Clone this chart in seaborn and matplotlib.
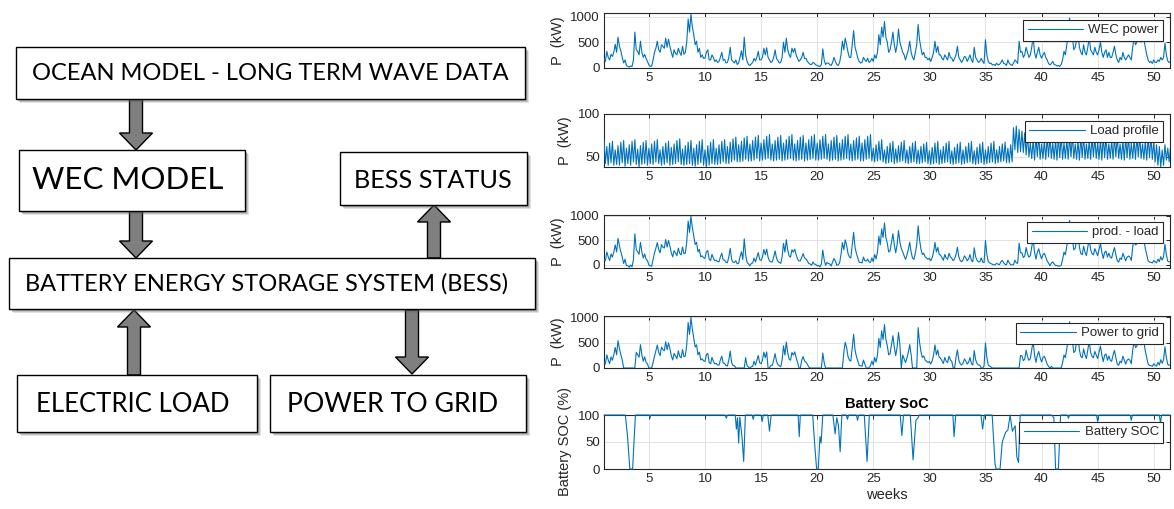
import numpy as np
import pandas as pd
import matplotlib
matplotlib.use("Agg")
import matplotlib.pyplot as plt
from matplotlib.patches import Rectangle, FancyArrow
import seaborn as sns

# WEC power, 8 readings per week (kW), one row per week 1..51
wec = [
    180, 120, 320, 200, 150, 260, 220, 300,
    460, 300, 600, 420, 330, 200, 90, 150,
    40, 20, 10, 30, 20, 150, 700, 350,
    320, 250, 520, 300, 200, 260, 180, 120,
    50, 20, 30, 150, 300, 380, 520, 350,
    300, 450, 420, 380, 580, 400, 560, 420,
    300, 200, 350, 280, 250, 380, 300, 240,
    420, 260, 300, 500, 960, 700, 1060, 800,
    650, 450, 520, 300, 380, 200, 250, 180,
    185, 300, 350, 150, 150, 250, 200, 120,
    150, 100, 120, 200, 300, 140, 160, 90,
    100, 200, 400, 150, 120, 90, 150, 60,
    90, 200, 330, 150, 600, 250, 120, 60,
    40, 70, 100, 180, 130, 200, 320, 150,
    150, 200, 380, 250, 390, 200, 150, 100,
    120, 200, 350, 180, 140, 90, 100, 200,
    500, 300, 580, 350, 250, 200, 380, 300,
    380, 250, 180, 120, 150, 200, 300, 180,
    180, 120, 90, 60, 60, 100, 85, 50,
    40, 30, 20, 60, 370, 150, 60, 90,
    85, 60, 40, 100, 200, 120, 60, 40,
    100, 250, 520, 350, 580, 450, 300, 200,
    200, 450, 730, 400, 300, 180, 120, 90,
    100, 200, 150, 120, 185, 100, 120, 180,
    120, 250, 180, 300, 650, 450, 800, 600,
    910, 600, 500, 300, 350, 500, 700, 450,
    300, 450, 760, 500, 400, 300, 250, 150,
    250, 350, 520, 300, 200, 150, 300, 450,
    850, 550, 380, 250, 300, 200, 200, 150,
    185, 120, 200, 300, 520, 300, 420, 250,
    250, 180, 150, 250, 200, 150, 300, 200,
    185, 120, 180, 250, 420, 200, 150, 100,
    150, 220, 200, 120, 180, 250, 150, 100,
    400, 200, 150, 100, 120, 180, 120, 80,
    550, 250, 120, 80, 85, 50, 60, 40,
    85, 50, 60, 100, 150, 80, 70, 40,
    150, 80, 60, 40, 85, 150, 120, 80,
    520, 300, 320, 200, 250, 400, 300, 200,
    250, 400, 600, 300, 185, 300, 400, 250,
    185, 250, 300, 200, 150, 80, 50, 80,
    120, 60, 50, 30, 40, 20, 60, 150,
    320, 250, 450, 600, 980, 700, 600, 350,
    400, 550, 700, 400, 300, 250, 450, 300,
    250, 400, 600, 350, 300, 250, 400, 300,
    250, 350, 500, 300, 200, 300, 350, 200,
    300, 200, 200, 300, 420, 250, 150, 100,
    200, 150, 300, 200, 150, 200, 250, 200,
    150, 400, 600, 450, 500, 700, 650, 500,
    700, 550, 400, 250, 150, 100, 120, 80,
    150, 100, 100, 150, 120, 200, 150, 200,
    480, 250, 130, 100, 120, 180, 150, 120,
]

# load profile, 8 readings per week (kW)
load = [
    70, 42, 62, 40, 66, 43, 68, 40,
    58, 41, 63, 40, 67, 43, 69, 39,
    60, 42, 64, 40, 68, 44, 70, 41,
    59, 38, 63, 41, 67, 42, 69, 40,
    60, 42, 65, 41, 68, 44, 70, 42,
    58, 40, 62, 41, 66, 43, 68, 40,
    61, 41, 65, 42, 69, 44, 71, 41,
    59, 40, 63, 41, 67, 42, 69, 40,
    60, 39, 64, 41, 68, 43, 70, 40,
    58, 38, 63, 40, 67, 42, 70, 41,
    60, 41, 64, 42, 68, 44, 70, 42,
    62, 42, 67, 44, 71, 46, 73, 44,
    64, 44, 68, 45, 72, 47, 74, 45,
    65, 45, 69, 46, 73, 48, 75, 45,
    66, 46, 70, 47, 74, 48, 76, 46,
    65, 45, 69, 46, 73, 47, 75, 45,
    66, 46, 70, 47, 74, 48, 76, 46,
    65, 45, 69, 46, 73, 47, 75, 45,
    66, 46, 70, 47, 74, 48, 76, 46,
    66, 46, 70, 47, 74, 48, 76, 47,
    65, 45, 69, 46, 73, 47, 75, 45,
    66, 46, 70, 47, 74, 48, 76, 46,
    65, 45, 69, 46, 72, 47, 74, 45,
    66, 45, 70, 47, 74, 48, 76, 45,
    60, 44, 64, 45, 68, 46, 70, 44,
    58, 42, 62, 43, 66, 44, 68, 42,
    59, 43, 63, 44, 67, 45, 69, 43,
    58, 42, 62, 43, 66, 44, 68, 42,
    58, 42, 62, 43, 65, 44, 67, 42,
    57, 41, 61, 42, 66, 43, 68, 41,
    58, 42, 62, 43, 66, 44, 68, 42,
    57, 41, 61, 42, 65, 43, 67, 41,
    58, 42, 62, 43, 66, 44, 68, 42,
    57, 41, 61, 42, 65, 43, 67, 41,
    58, 42, 62, 43, 66, 44, 68, 42,
    58, 43, 62, 44, 65, 45, 67, 43,
    60, 43, 64, 44, 84, 58, 86, 55,
    82, 56, 80, 55, 78, 52, 76, 50,
    66, 48, 70, 46, 74, 50, 76, 47,
    65, 48, 69, 47, 73, 50, 74, 48,
    66, 47, 70, 46, 74, 49, 75, 47,
    66, 48, 70, 47, 74, 50, 76, 48,
    65, 47, 69, 46, 73, 49, 75, 47,
    65, 48, 69, 47, 73, 50, 74, 48,
    66, 47, 70, 46, 74, 49, 75, 47,
    65, 48, 69, 47, 73, 50, 74, 48,
    65, 47, 69, 46, 73, 49, 74, 47,
    66, 48, 70, 47, 74, 50, 75, 48,
    65, 47, 69, 46, 73, 49, 74, 47,
    68, 44, 64, 40, 62, 38, 58, 40,
    64, 46, 60, 44, 62, 45, 60, 44,
]

# periods (weeks) where nothing goes to the grid because the battery is charging
grid_off = [(2.75, 3.85), (12.75, 13.6), (15.6, 15.85), (18.3, 18.5), (19.3, 20.45),
            (20.7, 22.25), (24.3, 24.7), (27.4, 27.6), (28.4, 28.9), (32.1, 32.3),
            (34.6, 34.8), (35.6, 38.05), (40.9, 41.8)]

# battery state of charge (%)
soc_weeks = [1.0, 2.9, 3.1, 3.3, 3.55, 3.8, 5.05, 5.1, 5.15, 11.8, 11.9, 12.0,
             12.7, 12.8, 12.9, 13.0, 13.1, 13.3, 13.45, 13.6, 14.2, 14.3, 14.4,
             15.0, 15.1, 15.2, 15.6, 15.75, 15.9, 18.3, 18.4, 18.5,
             19.6, 19.8, 19.95, 20.1, 20.25, 20.35, 20.5,
             21.4, 21.6, 21.75, 21.9, 22.05, 22.2, 22.6, 22.7, 22.8, 23.5, 23.6, 23.7,
             24.2, 24.45, 24.65, 27.4, 27.55, 27.7, 28.3, 28.55, 28.8, 29.0, 29.1,
             32.1, 32.2, 32.35, 34.6, 34.75, 34.9,
             35.6, 35.85, 35.95, 36.3, 36.5, 36.8, 37.0, 37.2, 37.4, 37.65, 37.8, 37.95, 38.1,
             40.9, 41.1, 41.25, 41.5, 41.7, 42.3, 42.4, 42.5, 44.9, 45.0, 45.1,
             47.9, 48.0, 48.1, 50.5, 50.6, 50.7, 51.45]
soc_vals = [100, 100, 60, 0, 0, 100, 100, 94, 100, 100, 94, 100,
            100, 74, 95, 48, 96, 60, 14, 100, 100, 92, 100,
            100, 88, 100, 100, 70, 100, 100, 60, 100,
            100, 40, 0, 0, 60, 48, 100,
            100, 65, 95, 80, 32, 100, 100, 92, 100, 100, 90, 100,
            100, 14, 100, 100, 62, 100, 100, 17, 90, 95, 100,
            100, 60, 100, 100, 74, 100,
            100, 10, 0, 0, 50, 68, 72, 100, 70, 80, 22, 12, 100,
            100, 95, 0, 0, 100, 100, 94, 100, 100, 88, 100,
            100, 90, 100, 100, 85, 100, 100]

weeks = 1 + 0.125 * np.arange(len(wec))
df = pd.DataFrame({'week': weeks, 'wec': wec, 'load': load})
df['prod_load'] = df['wec'] - df['load']
off = np.zeros(len(df), dtype=bool)
for a, b in grid_off:
    off |= (df['week'] >= a) & (df['week'] <= b)
df['grid'] = np.where(off, 0, df['prod_load'].clip(lower=0))
soc_df = pd.DataFrame({'week': soc_weeks, 'soc': soc_vals})

sns.set_theme(style='white')
plt.rcParams['font.family'] = ['Liberation Sans', 'DejaVu Sans']

W, H = 1174, 509
fig = plt.figure(figsize=(W / 100, H / 100), dpi=100)
fig.patch.set_facecolor('white')

# ---- block diagram on the left ----
ax0 = fig.add_axes([0, 0, 587 / W, 1])
ax0.set_xlim(0, 587)
ax0.set_ylim(H, 0)
ax0.axis('off')

def box(x0, y0, x1, y1, text, size, tx, ty):
    for d, a in [(4, 0.18), (3, 0.25), (2, 0.3)]:
        ax0.add_patch(Rectangle((x0 + d, y0 + d), x1 - x0, y1 - y0, fc='#606060', ec='none', alpha=a))
    ax0.add_patch(Rectangle((x0, y0), x1 - x0, y1 - y0, fc='white', ec='black', lw=1.0))
    ax0.text(tx, ty, text, fontsize=size, ha='center', va='center', family='Lato', color='black')

def arrow(x, y0, y1):
    ax0.add_patch(FancyArrow(x, y0, 0, y1 - y0, width=13, head_width=33, head_length=17,
                             length_includes_head=True, fc='#7f7f7f', ec='black', lw=1.0))

arrow(136, 99, 150)
arrow(136, 211, 258)
arrow(434, 258, 205)
arrow(134, 375, 310)
arrow(412, 310, 374)

box(16, 47, 525, 99, 'OCEAN MODEL - LONG TERM WAVE DATA', 17, 270, 73)
box(19, 150, 245, 211, 'WEC MODEL', 22.5, 128, 180)
box(340, 152, 527, 205, 'BESS STATUS', 18.2, 433, 181)
box(9, 258, 535, 309, 'BATTERY ENERGY STORAGE SYSTEM (BESS)', 17, 267, 284)
box(17, 375, 257, 432, 'ELECTRIC LOAD', 18.5, 133, 404)
box(270, 375, 526, 432, 'POWER TO GRID', 19.2, 393, 404)

# ---- time series on the right ----
blue = '#0072BD'
dark = '#262626'
x_left, x_right = 604, 1170
panels = [
    (13, 67.5, 'wec', 'WEC power', (0, 1078), [0, 500, 1000]),
    (114, 167, 'load', 'Load profile', (38, 100), [50, 100]),
    (215, 268, 'prod_load', 'prod. - load', (-70, 1015), [0, 500, 1000]),
    (316, 368, 'grid', 'Power to grid', (0, 1020), [0, 500, 1000]),
    (415, 469, 'soc', 'Battery SOC', (0, 100), [0, 50, 100]),
]

for top, bottom, col, lab, ylim, yt in panels:
    ax = fig.add_axes([x_left / W, 1 - bottom / H, (x_right - x_left) / W, (bottom - top) / H])
    if col == 'soc':
        sns.lineplot(data=soc_df, x='week', y='soc', ax=ax, color=blue, lw=0.8, label=lab,
                     zorder=3, clip_on=False)
        ax.set_ylabel('Battery SOC (%)', fontsize=10.5, color=dark, labelpad=4)
        ax.set_xlabel('weeks', fontsize=10.5, color=dark, labelpad=2)
        ax.set_title('Battery SoC', fontsize=10.5, fontweight='bold', color='black', pad=5)
    else:
        sns.lineplot(data=df, x='week', y=col, ax=ax, color=blue, lw=0.8, label=lab, zorder=3)
        ax.set_ylabel('P  (kW)', fontsize=10.5, color=dark, labelpad=4)
        ax.set_xlabel('')
    ax.set_xlim(1, 51.45)
    ax.set_ylim(*ylim)
    ax.set_xticks(range(5, 55, 5))
    ax.set_yticks(yt)
    ax.grid(True, color='#e3e3e3', lw=0.7)
    ax.tick_params(direction='in', length=3, width=0.7, top=True, right=True,
                   labelsize=9.5, labelcolor=dark, color=dark, pad=3)
    for s in ax.spines.values():
        s.set_color(dark)
        s.set_linewidth(0.8)
    leg = ax.legend(loc='upper right', fontsize=9.5, frameon=True, fancybox=False,
                    edgecolor=dark, framealpha=1, handlelength=4.2, borderaxespad=0.5,
                    borderpad=0.35, handletextpad=0.4)
    leg.get_frame().set_linewidth(0.8)
    leg.set_zorder(5)

fig.savefig('out.png', dpi=100)
